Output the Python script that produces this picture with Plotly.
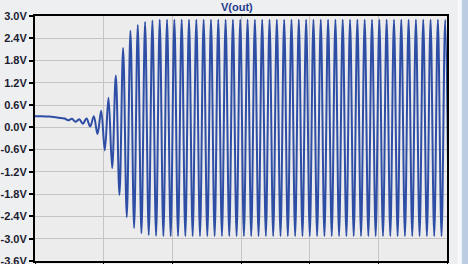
import plotly.graph_objects as go

# time in microseconds (x axis spans 0..600, gridline every 100)
pre_t = [0.0, 10.0, 20.0, 30.0, 38.0]
pre_v = [0.30, 0.30, 0.29, 0.27, 0.25]

# times of successive extrema (peaks / valleys)
ext_t = [43.05, 48.38, 53.71, 59.04, 64.37, 69.70, 75.03, 80.36, 85.69, 91.02,
         96.35, 101.68, 107.01, 112.34, 117.67, 123.00, 128.33, 133.66, 138.99, 144.32,
         149.65, 154.98, 160.31, 165.64, 170.97, 176.30, 181.63, 186.96, 192.29, 197.62,
         202.95, 208.28, 213.61, 218.94, 224.27, 229.60, 234.93, 240.26, 245.59, 250.92,
         256.25, 261.58, 266.91, 272.24, 277.57, 282.90, 288.23, 293.56, 298.89, 304.22,
         309.55, 314.88, 320.21, 325.54, 330.87, 336.20, 341.53, 346.86, 352.19, 357.52,
         362.85, 368.18, 373.51, 378.84, 384.17, 389.50, 394.83, 400.16, 405.49, 410.82,
         416.15, 421.48, 426.81, 432.14, 437.47, 442.80, 448.13, 453.46, 458.79, 464.12,
         469.45, 474.78, 480.11, 485.44, 490.77, 496.10, 501.43, 506.76, 512.09, 517.42,
         522.75, 528.08, 533.41, 538.74, 544.07, 549.40, 554.73, 560.06, 565.39, 570.72,
         576.05, 581.38, 586.71, 592.04, 597.37, 602.70]
ext_v = [0.24, 0.19, 0.23, 0.15, 0.22, 0.10, 0.24, 0.02, 0.30, -0.18,
         0.45, -0.62, 0.80, -1.10, 1.40, -1.82, 2.14, -2.42, 2.60, -2.71,
         2.76, -2.85, 2.84, -2.90, 2.88, -2.92, 2.90, -2.93, 2.90, -2.93,
         2.90, -2.93, 2.90, -2.93, 2.90, -2.93, 2.90, -2.93, 2.90, -2.93,
         2.90, -2.93, 2.90, -2.93, 2.90, -2.93, 2.90, -2.93, 2.90, -2.93,
         2.90, -2.93, 2.90, -2.93, 2.90, -2.93, 2.90, -2.93, 2.90, -2.93,
         2.90, -2.93, 2.90, -2.93, 2.90, -2.93, 2.90, -2.93, 2.90, -2.93,
         2.90, -2.93, 2.90, -2.93, 2.90, -2.93, 2.90, -2.93, 2.90, -2.93,
         2.90, -2.93, 2.90, -2.93, 2.90, -2.93, 2.90, -2.93, 2.90, -2.93,
         2.90, -2.93, 2.90, -2.93, 2.90, -2.93, 2.90, -2.93, 2.90, -2.93,
         2.90, -2.93, 2.90, -2.93, 2.90, -2.93]

y_ticks = [3.0, 2.4, 1.8, 1.2, 0.6, 0.0, -0.6, -1.2, -1.8, -2.4, -3.0, -3.6]
y_labels = ["3.0V", "2.4V", "1.8V", "1.2V", "0.6V", "0.0V", "-0.6V", "-1.2V",
            "-1.8V", "-2.4V", "-3.0V", "-3.6V"]
title_text = "V(out)"

fig = go.Figure()
fig.add_trace(go.Scatter(
    x=pre_t + ext_t, y=pre_v + ext_v, mode="lines",
    line=dict(color="#2e4ea6", width=2.0, shape="spline", smoothing=1.0),
    hoverinfo="skip", showlegend=False))

fig.update_layout(
    width=468, height=264,
    margin=dict(l=35, r=21, t=16, b=3, autoexpand=False),
    paper_bgcolor="#eeeff1",
    plot_bgcolor="#ececec",
    showlegend=False,
    xaxis=dict(range=[0, 600], dtick=100, tick0=0, showticklabels=False,
               automargin=False,
               showgrid=True, gridcolor="#c4c4c4", gridwidth=1,
               showline=True, linecolor="#000000", linewidth=2, mirror=True,
               ticks="outside", ticklen=4, tickcolor="#000000", tickwidth=1,
               zeroline=False),
    yaxis=dict(range=[-3.6, 3.0], tickvals=y_ticks, ticktext=y_labels,
               automargin=False, ticklabeloverflow="allow",
               showgrid=True, gridcolor="#c4c4c4", gridwidth=1,
               showline=True, linecolor="#000000", linewidth=2, mirror=True,
               ticks="outside", ticklen=4, tickcolor="#000000", tickwidth=2,
               zeroline=False,
               tickfont=dict(family="Arial", size=11, color="#1c1c30", weight="bold")),
    annotations=[dict(text=title_text, xref="paper", yref="paper", x=0.49, y=1.0,
                      yanchor="middle", yshift=9, showarrow=False,
                      font=dict(family="Arial", size=11, color="#1e3c8c", weight="bold"))],
    shapes=[
        dict(type="rect", xref="paper", yref="paper", x0=1.026, x1=1.06, y0=-0.05, y1=1.1,
             fillcolor="#f6f8fb", line=dict(width=0), layer="below"),
        dict(type="rect", xref="paper", yref="paper", x0=1.036, x1=1.06, y0=-0.05, y1=1.1,
             fillcolor="#bccde2", line=dict(width=0), layer="below"),
    ],
)

fig.write_html("out.html")
